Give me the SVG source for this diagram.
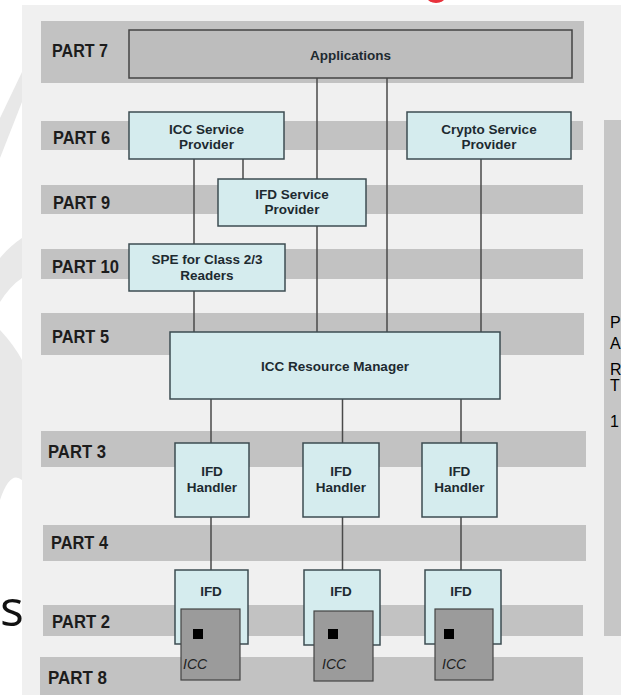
<svg xmlns="http://www.w3.org/2000/svg" width="621" height="695" viewBox="0 0 621 695">
<style>
.band{fill:#c2c2c2}
.box{fill:#d5ecee;stroke:#3c4c52;stroke-width:1.5}
.app{fill:#bdbdbd;stroke:#444;stroke-width:1.5}
.icc{fill:#9b9b9b;stroke:#444;stroke-width:1.2}
.lbl{font-family:"Liberation Sans",Arial,sans-serif;font-weight:bold;font-size:18px;fill:#1c1c1c}
.bt{font-family:"Liberation Sans",Arial,sans-serif;font-weight:bold;font-size:13.5px;fill:#1d2a30;text-anchor:middle}
.it{font-family:"Liberation Sans",Arial,sans-serif;font-style:italic;font-size:14px;fill:#222}
.side{font-family:"Liberation Sans",Arial,sans-serif;font-size:16px;fill:#000}
.conn line{stroke:#4a4a4a;stroke-width:1.5}
</style>
<rect width="621" height="695" fill="#ffffff"/>
<g id="background">
<path d="M0,118 L22,72 L22,102 L0,158 Z" fill="#e8e8e8"/>
<path d="M0,258 Q10,246 22,238 L22,278 Q10,286 0,302 Z" fill="#e8e8e8"/>
<path d="M0,330 Q14,345 22,360 L22,480 Q10,470 0,500 Z" fill="#e8e8e8"/>
<text x="0" y="626" font-family="'Open Sans',sans-serif" font-size="50" fill="#111">s</text>
<ellipse cx="436" cy="-3" rx="9" ry="6" fill="#e8323c"/>
<rect x="22" y="5" width="599" height="690" fill="#f0f0f0"/>
</g>
<g id="bands">
<rect class="band" x="41" y="21" width="543" height="62"/>
<rect class="band" x="41" y="121" width="542" height="29"/>
<rect class="band" x="41" y="185" width="542" height="29"/>
<rect class="band" x="41" y="249" width="542" height="30"/>
<rect class="band" x="41" y="313" width="543" height="42"/>
<rect class="band" x="41" y="431" width="545" height="36"/>
<rect class="band" x="43" y="525" width="543" height="36"/>
<rect class="band" x="43" y="605" width="540" height="31"/>
<rect class="band" x="40" y="657" width="543" height="38"/>
<rect x="604" y="120" width="17" height="516" fill="#c6c6c6"/>
</g>
<g id="part-labels">
<text class="lbl" x="52" y="57" textLength="56" lengthAdjust="spacingAndGlyphs">PART 7</text>
<text class="lbl" x="53" y="144" textLength="57" lengthAdjust="spacingAndGlyphs">PART 6</text>
<text class="lbl" x="53" y="209" textLength="57" lengthAdjust="spacingAndGlyphs">PART 9</text>
<text class="lbl" x="52" y="273" textLength="67" lengthAdjust="spacingAndGlyphs">PART 10</text>
<text class="lbl" x="52" y="343" textLength="57" lengthAdjust="spacingAndGlyphs">PART 5</text>
<text class="lbl" x="48" y="458" textLength="58" lengthAdjust="spacingAndGlyphs">PART 3</text>
<text class="lbl" x="51" y="549" textLength="57" lengthAdjust="spacingAndGlyphs">PART 4</text>
<text class="lbl" x="52" y="628" textLength="58" lengthAdjust="spacingAndGlyphs">PART 2</text>
<text class="lbl" x="48" y="684" textLength="59" lengthAdjust="spacingAndGlyphs">PART 8</text>
</g>
<g id="side-label">
<text class="side" x="610" y="328">P</text>
<text class="side" x="610" y="349">A</text>
<text class="side" x="610" y="375">R</text>
<text class="side" x="610" y="391">T</text>
<text class="side" x="610" y="427">1</text>
</g>
<g id="connectors" class="conn">
<line x1="317" y1="78" x2="317" y2="332"/>
<line x1="387" y1="78" x2="387" y2="332"/>
<line x1="194" y1="159" x2="194" y2="332"/>
<line x1="243" y1="159" x2="243" y2="179"/>
<line x1="481" y1="159" x2="481" y2="332"/>
<line x1="211" y1="399" x2="211" y2="570"/>
<line x1="342.5" y1="399" x2="342.5" y2="570"/>
<line x1="461" y1="399" x2="461" y2="570"/>
</g>
<g id="applications">
<rect class="app" x="129" y="30" width="443" height="48"/>
<text class="bt" x="350.5" y="60">Applications</text>
</g>
<g id="icc-service-provider">
<rect class="box" x="129" y="112" width="155" height="47"/>
<text class="bt" x="206.5" y="134">ICC Service</text>
<text class="bt" x="206.5" y="149">Provider</text>
</g>
<g id="crypto-service-provider">
<rect class="box" x="407" y="112" width="164" height="47"/>
<text class="bt" x="489" y="134">Crypto Service</text>
<text class="bt" x="489" y="149">Provider</text>
</g>
<g id="ifd-service-provider">
<rect class="box" x="218" y="179" width="148" height="47"/>
<text class="bt" x="292" y="199">IFD Service</text>
<text class="bt" x="292" y="214">Provider</text>
</g>
<g id="spe-readers">
<rect class="box" x="129" y="244" width="156" height="47"/>
<text class="bt" x="207" y="264">SPE for Class 2/3</text>
<text class="bt" x="207" y="280">Readers</text>
</g>
<g id="icc-resource-manager">
<rect class="box" x="170" y="332" width="330" height="67"/>
<text class="bt" x="335" y="371">ICC Resource Manager</text>
</g>
<g id="ifd-handler-1">
<rect class="box" x="175" y="443" width="74" height="74"/>
<text class="bt" x="212" y="476">IFD</text>
<text class="bt" x="212" y="492">Handler</text>
</g>
<g id="ifd-handler-2">
<rect class="box" x="303" y="443" width="76" height="74"/>
<text class="bt" x="341" y="476">IFD</text>
<text class="bt" x="341" y="492">Handler</text>
</g>
<g id="ifd-handler-3">
<rect class="box" x="422" y="443" width="75" height="74"/>
<text class="bt" x="459.5" y="476">IFD</text>
<text class="bt" x="459.5" y="492">Handler</text>
</g>
<g id="ifd-1">
<rect class="box" x="175" y="570" width="73" height="74"/>
<text class="bt" x="211" y="596">IFD</text>
<rect class="icc" x="181" y="609" width="59" height="71"/>
<rect x="193" y="629" width="10" height="10" fill="#000"/>
<text class="it" x="183" y="669">ICC</text>
</g>
<g id="ifd-2">
<rect class="box" x="304" y="570" width="76" height="75"/>
<text class="bt" x="341" y="596">IFD</text>
<rect class="icc" x="314" y="611" width="59" height="70"/>
<rect x="328" y="629" width="10" height="10" fill="#000"/>
<text class="it" x="322" y="669">ICC</text>
</g>
<g id="ifd-3">
<rect class="box" x="425" y="570" width="76" height="74"/>
<text class="bt" x="461" y="596">IFD</text>
<rect class="icc" x="435" y="609" width="58" height="71"/>
<rect x="444" y="629" width="10" height="10" fill="#000"/>
<text class="it" x="442" y="669">ICC</text>
</g>
</svg>
